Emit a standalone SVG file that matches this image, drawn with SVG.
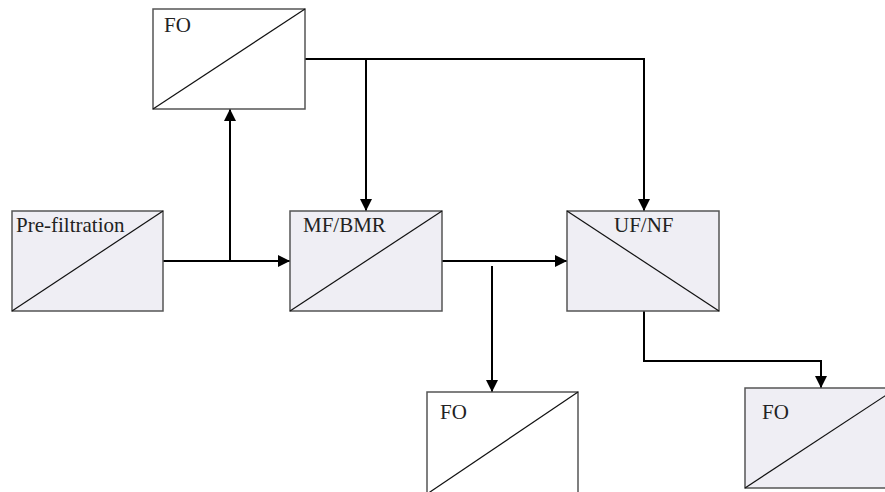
<svg xmlns="http://www.w3.org/2000/svg" width="885" height="492" viewBox="0 0 885 492">
<style>
.box{stroke:#555;stroke-width:1.5}
.g{fill:#efeef4}
.w{fill:#fff}
.diag{stroke:#111;stroke-width:1.2;fill:none}
.lbl{font-family:"Liberation Serif","Times New Roman",serif;font-size:21px;fill:#222}
.c{stroke:#000;stroke-width:2;fill:none}
</style>
<defs>
<marker id="arr" viewBox="0 0 12 12" refX="12" refY="6" markerWidth="12" markerHeight="12" markerUnits="userSpaceOnUse" orient="auto">
<path d="M0,0 L12,6 L0,12 Z" fill="#000"/>
</marker>
</defs>
<rect width="885" height="492" fill="#fff"/>
<g id="connectors">
<path class="c" d="M163,261 H290" marker-end="url(#arr)"/>
<path class="c" d="M230,261 V109" marker-end="url(#arr)"/>
<path class="c" d="M305,59 H644 V211" marker-end="url(#arr)"/>
<path class="c" d="M366,59 V211" marker-end="url(#arr)"/>
<path class="c" d="M442,261 H567" marker-end="url(#arr)"/>
<path class="c" d="M492,266 V392" marker-end="url(#arr)"/>
<path class="c" d="M644,311 V361 H821 V388" marker-end="url(#arr)"/>
</g>
<g id="fo-top">
<rect class="box w" x="153" y="9" width="152" height="100"/>
<line class="diag" x1="153" y1="109" x2="305" y2="9"/>
<text class="lbl" x="164" y="32">FO</text>
</g>
<g id="pre-filtration">
<rect class="box g" x="12" y="211" width="151" height="100"/>
<line class="diag" x1="12" y1="311" x2="163" y2="211"/>
<text class="lbl" x="16" y="232">Pre-filtration</text>
</g>
<g id="mf-bmr">
<rect class="box g" x="290" y="211" width="152" height="100"/>
<line class="diag" x1="290" y1="311" x2="442" y2="211"/>
<text class="lbl" x="303" y="232">MF/BMR</text>
</g>
<g id="uf-nf">
<rect class="box g" x="567" y="211" width="152" height="100"/>
<line class="diag" x1="567" y1="211" x2="719" y2="311"/>
<text class="lbl" x="614" y="232">UF/NF</text>
</g>
<g id="fo-bottom-middle">
<rect class="box w" x="427" y="392" width="151" height="102"/>
<line class="diag" x1="427" y1="494" x2="578" y2="392"/>
<text class="lbl" x="440" y="419">FO</text>
</g>
<g id="fo-bottom-right">
<rect class="box g" x="745" y="388" width="152" height="100"/>
<line class="diag" x1="745" y1="488" x2="897" y2="388"/>
<text class="lbl" x="762" y="419">FO</text>
</g>
</svg>
